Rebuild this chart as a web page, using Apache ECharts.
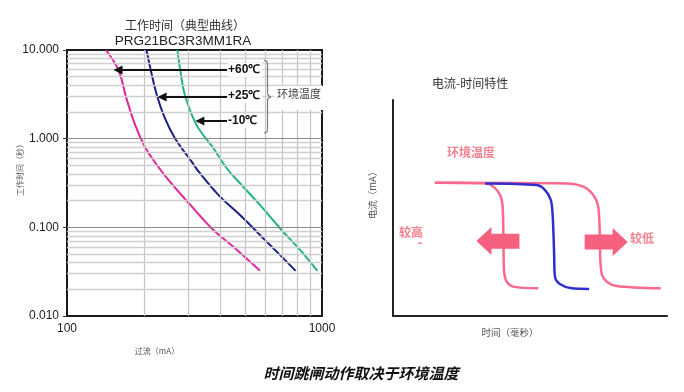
<!DOCTYPE html>
<html><head><meta charset="utf-8">
<script src="https://cdn.jsdelivr.net/npm/echarts@6/dist/echarts.min.js"></script>
<style>html,body{margin:0;padding:0;background:#fff}#c{width:684px;height:392px}</style>
</head><body><div id="c"></div>
<script>
// ---- Left chart: trip time (s) vs overcurrent (mA), log-log ----
const xTickValues = [100, 1000];
const yTickValues = [0.01, 0.1, 1, 10];
const tempLabels = ['+60℃', '+25℃', '-10℃'];
const curve60 = [[142,10],[159,5.96],[171,2.85],[185,1.43],[202,0.81],[218,0.575],[250,0.342],[304,0.18],[375,0.0935],[449,0.0605],[571,0.0325]];
const curve25 = [[205,10],[213,5.96],[225,3.11],[242,1.70],[265,1.01],[308,0.551],[332,0.408],[398,0.222],[477,0.138],[571,0.082],[684,0.0489],[788,0.0323]];
const curveM10 = [[271,10],[278,5.96],[290,3.11],[322,1.43],[375,0.78],[423,0.464],[477,0.314],[571,0.179],[684,0.0977],[820,0.0556],[959,0.0323]];
// annotation arrows: [tail current, head current, time]
const arrows = [[424,158.5,5.96],[424,236,2.95],[424,332,1.58]];
const xMinorGrid = [200,300,400,500,600,700,800,900];
const yMinorGrid = [];
[0.01,0.1,1].forEach(d => { for (let k = 2; k <= 9; k++) yMinorGrid.push(+(d*k).toPrecision(3)); });
const yMajorGrid = [0.1, 1];

// ---- Right chart: schematic current-time characteristic ----
const pinkHigh = [[15.3,61.7],[33.6,61.4],[36.6,59.9],[39.1,56.0],[40.0,50.6],[40.3,36.7],[40.5,21.3],[41.5,15.9],[43.9,13.6],[53.0,12.8]];
const blueMid = [[33.6,61.4],[52.4,60.6],[55.5,58.3],[57.6,53.7],[58.3,46.0],[58.8,29.0],[59.1,18.2],[60.9,14.8],[65.2,12.8],[71.6,12.5]];
const pinkLow = [[15.3,61.7],[63.4,61.4],[69.5,59.9],[73.1,56.0],[74.9,50.6],[75.5,36.7],[75.7,25.0],[76.3,19.0],[78.0,15.9],[81.6,13.9],[97.7,12.8]];
const bigArrows = [[38.3,34.7,'left'],[77.8,34.3,'right']];

const CJK = '"Noto Sans CJK SC", "Noto Sans", sans-serif';
const ARIAL = '"Liberation Sans", Arial, sans-serif';
const PINK_LINE = '#fb6a8c';
const PINK_ARROW = '#f5607f';
const PINK_TEXT = '#f5828f';

const chart = echarts.init(document.getElementById('c'));

const gridLineData = [];
xMinorGrid.forEach(v => gridLineData.push({xAxis: v, lineStyle: {color: '#c4c4c4', width: 1.2, type: 'solid'}}));
yMinorGrid.forEach(v => gridLineData.push({yAxis: v, lineStyle: {color: '#d0d0d0', width: 1.3, type: 'solid'}}));
yMajorGrid.forEach(v => gridLineData.push({yAxis: v, lineStyle: {color: '#8a8a8a', width: 1.2, type: 'solid'}}));

const arrowData = arrows.map(a => [{coord: [a[0], a[2]]}, {coord: [a[1], a[2]]}]);

const leftPath = 'path://M0,14 L15,0 L15,6.6 L43,6.6 L43,21.6 L15,21.6 L15,28 Z';
const rightPath = 'path://M43,14 L28,0 L28,6.6 L0,6.6 L0,21.6 L28,21.6 L28,28 Z';

const braceStyle = {fill: 'none', stroke: '#7a7a7a', lineWidth: 1.2};

chart.setOption({
  animation: false,
  backgroundColor: '#fff',
  grid: [
    {left: 67, top: 50, width: 255, height: 266, show: true, borderColor: '#1a1a1a', borderWidth: 2, backgroundColor: 'transparent'},
    {left: 393, top: 100, width: 274, height: 216}
  ],
  xAxis: [
    {type: 'log', logBase: 10, min: 100, max: 1000, gridIndex: 0,
     axisLine: {show: false}, axisTick: {show: false}, splitLine: {show: false},
     axisLabel: {show: true, margin: 7, fontSize: 12, fontFamily: ARIAL, color: '#222',
       formatter: v => (xTickValues.includes(Math.round(v)) ? String(Math.round(v)) : '')}},
    {type: 'value', min: 0, max: 100, gridIndex: 1,
     axisLine: {show: true, onZero: false, lineStyle: {color: '#222', width: 2}},
     axisTick: {show: false}, axisLabel: {show: false}, splitLine: {show: false}}
  ],
  yAxis: [
    {type: 'log', logBase: 10, min: 0.01, max: 10, gridIndex: 0,
     axisLine: {show: false}, axisTick: {show: true, inside: false, length: 4, lineStyle: {color: '#333'}},
     splitLine: {show: false},
     axisLabel: {margin: 8, fontSize: 12, fontFamily: ARIAL, color: '#222',
       formatter: v => { const m = yTickValues.find(t => Math.abs(t - v) / t < 1e-6); return m !== undefined ? m.toFixed(3) : ''; }}},
    {type: 'value', min: 0, max: 100, gridIndex: 1,
     axisLine: {show: true, onZero: false, lineStyle: {color: '#222', width: 2}},
     axisTick: {show: false}, axisLabel: {show: false}, splitLine: {show: false}}
  ],
  series: [
    {type: 'line', xAxisIndex: 0, yAxisIndex: 0, data: [[100, 0.01]], showSymbol: false, symbol: 'none',
     lineStyle: {width: 0}, silent: true, z: 1,
     markLine: {silent: true, symbol: ['none', 'none'], label: {show: false}, animation: false, data: gridLineData}},
    {name: '+60', type: 'line', xAxisIndex: 0, yAxisIndex: 0, data: curve60, smooth: 0.4, symbol: 'none',
     lineStyle: {color: '#e2239d', width: 2}, z: 3},
    {name: '+25', type: 'line', xAxisIndex: 0, yAxisIndex: 0, data: curve25, smooth: 0.4, symbol: 'none',
     lineStyle: {color: '#1d1f86', width: 2}, z: 3},
    {name: '-10', type: 'line', xAxisIndex: 0, yAxisIndex: 0, data: curveM10, smooth: 0.4, symbol: 'none',
     lineStyle: {color: '#22b677', width: 2}, z: 3},
    {type: 'line', xAxisIndex: 0, yAxisIndex: 0, data: [[100, 0.01]], showSymbol: false, symbol: 'none',
     lineStyle: {width: 0}, silent: true, z: 4,
     markLine: {silent: true, symbol: ['none', 'triangle'], symbolSize: 9,
       label: {show: false}, animation: false,
       lineStyle: {color: '#111', width: 2, type: 'solid'}, data: arrowData}},
    {type: 'line', xAxisIndex: 1, yAxisIndex: 1, data: pinkLow, smooth: 0.3, symbol: 'none',
     lineStyle: {color: PINK_LINE, width: 2.5}, z: 3},
    {type: 'line', xAxisIndex: 1, yAxisIndex: 1, data: pinkHigh, smooth: 0.3, symbol: 'none',
     lineStyle: {color: PINK_LINE, width: 2.5}, z: 3},
    {type: 'line', xAxisIndex: 1, yAxisIndex: 1, data: blueMid, smooth: 0.3, symbol: 'none',
     lineStyle: {color: '#2f2fd0', width: 2.5}, z: 4},
    {type: 'scatter', xAxisIndex: 1, yAxisIndex: 1, silent: true, z: 5,
     data: bigArrows.map(a => ({value: [a[0], a[1]], symbol: a[2] === 'left' ? leftPath : rightPath})),
     symbolSize: [43, 28], itemStyle: {color: PINK_ARROW, opacity: 1}}
  ],
  graphic: [
    {type: 'text', x: 185, y: 25, z: 100, style: {text: '工作时间（典型曲线）', font: '12px ' + CJK, fill: '#333', textAlign: 'center', textVerticalAlign: 'middle'}},
    {type: 'text', x: 183, y: 41, z: 100, style: {text: 'PRG21BC3R3MM1RA', font: '13.5px ' + ARIAL, fill: '#222', textAlign: 'center', textVerticalAlign: 'middle'}},
    {type: 'text', x: 20, y: 168, rotation: Math.PI / 2, z: 100, style: {text: '工作时间（秒）', font: '8px ' + CJK, fill: '#555', textAlign: 'center', textVerticalAlign: 'middle'}},
    {type: 'text', x: 157, y: 351, z: 100, style: {text: '过流（mA）', font: '8px ' + CJK, fill: '#555', textAlign: 'center', textVerticalAlign: 'middle'}},
    {type: 'text', x: 228, y: 70, z: 100, style: {text: tempLabels[0], font: 'bold 12px ' + ARIAL, fill: '#111', textAlign: 'left', textVerticalAlign: 'middle', backgroundColor: '#fff', padding: [1, 2, 1, 0]}},
    {type: 'text', x: 228, y: 96, z: 100, style: {text: tempLabels[1], font: 'bold 12px ' + ARIAL, fill: '#111', textAlign: 'left', textVerticalAlign: 'middle', backgroundColor: '#fff', padding: [1, 2, 1, 0]}},
    {type: 'text', x: 228, y: 121, z: 100, style: {text: tempLabels[2], font: 'bold 12px ' + ARIAL, fill: '#111', textAlign: 'left', textVerticalAlign: 'middle', backgroundColor: '#fff', padding: [1, 2, 1, 0]}},
    {type: 'rect', z: 99, shape: {x: 274, y: 86, width: 66, height: 24}, style: {fill: '#fff'}},
    {type: 'text', x: 277, y: 94, z: 100, style: {text: '环境温度', font: '11px ' + CJK, fill: '#444', textAlign: 'left', textVerticalAlign: 'middle'}},
    {type: 'bezierCurve', z: 100, shape: {x1: 264, y1: 60.5, x2: 267.5, y2: 64, cpx1: 267.5, cpy1: 60.5}, style: braceStyle},
    {type: 'line', z: 100, shape: {x1: 267.5, y1: 64, x2: 267.5, y2: 92.5}, style: braceStyle},
    {type: 'bezierCurve', z: 100, shape: {x1: 267.5, y1: 92.5, x2: 271, y2: 96.8, cpx1: 267.5, cpy1: 96}, style: braceStyle},
    {type: 'bezierCurve', z: 100, shape: {x1: 271, y1: 96.8, x2: 267.5, y2: 101, cpx1: 267.5, cpy1: 97.6}, style: braceStyle},
    {type: 'line', z: 100, shape: {x1: 267.5, y1: 101, x2: 267.5, y2: 129.5}, style: braceStyle},
    {type: 'bezierCurve', z: 100, shape: {x1: 267.5, y1: 129.5, x2: 264, y2: 133, cpx1: 267.5, cpy1: 133}, style: braceStyle},
    {type: 'text', x: 432, y: 83, z: 100, style: {text: '电流-时间特性', font: '12px ' + CJK, fill: '#333', textAlign: 'left', textVerticalAlign: 'middle'}},
    {type: 'text', x: 372, y: 193, rotation: Math.PI / 2, z: 100, style: {text: '电流（mA）', font: '9.5px ' + CJK, fill: '#555', textAlign: 'center', textVerticalAlign: 'middle'}},
    {type: 'text', x: 510, y: 332, z: 100, style: {text: '时间（毫秒）', font: '9.5px ' + CJK, fill: '#555', textAlign: 'center', textVerticalAlign: 'middle'}},
    {type: 'text', x: 447, y: 152, z: 100, style: {text: '环境温度', font: 'bold 12px ' + CJK, fill: PINK_TEXT, textAlign: 'left', textVerticalAlign: 'middle'}},
    {type: 'text', x: 399, y: 232, z: 100, style: {text: '较高', font: 'bold 12px ' + CJK, fill: PINK_TEXT, textAlign: 'left', textVerticalAlign: 'middle'}},
    {type: 'rect', z: 100, shape: {x: 418, y: 242.5, width: 4, height: 1.2}, style: {fill: PINK_ARROW}},
    {type: 'text', x: 630, y: 238, z: 100, style: {text: '较低', font: 'bold 12px ' + CJK, fill: PINK_TEXT, textAlign: 'left', textVerticalAlign: 'middle'}},
    {type: 'text', x: 361, y: 373, z: 100, style: {text: '时间跳闸动作取决于环境温度', font: 'italic bold 15px ' + CJK, fill: '#111', textAlign: 'center', textVerticalAlign: 'middle'}}
  ]
});
</script></body></html>
